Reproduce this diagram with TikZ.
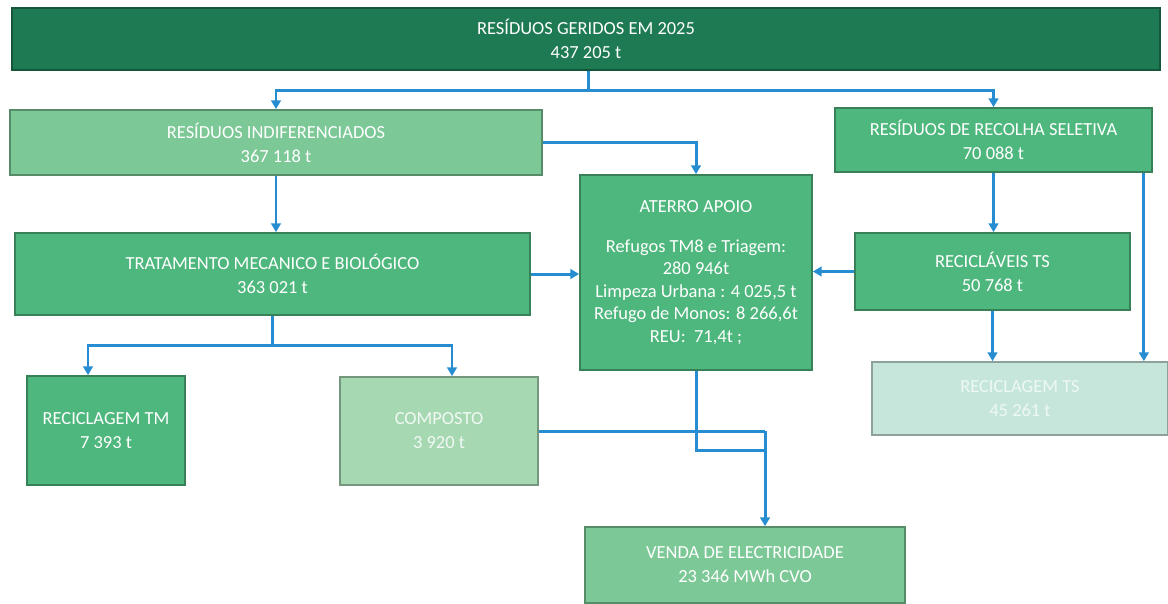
\documentclass[tikz,border=0pt]{standalone}
\usepackage{fontspec}
\setmainfont{Carlito}
\usepackage{tikz}
\usetikzlibrary{arrows.meta}

\definecolor{topgreen}{RGB}{30,122,82}
\definecolor{midgreen}{RGB}{78,183,125}
\definecolor{litegreen}{RGB}{124,200,150}
\definecolor{palegreen}{RGB}{166,216,178}
\definecolor{paleteal}{RGB}{198,230,220}
\definecolor{flowblue}{RGB}{38,142,208}

\tikzset{
  box/.style={rectangle, draw=#1!70!black, fill=#1, line width=1pt,
    text=white, align=center, inner sep=0pt,
    font=\fontsize{10.5}{13.6}\selectfont},
  flow/.style={draw=flowblue, line width=1.7pt,
    -{Triangle[length=5pt,width=5.5pt]}},
  link/.style={draw=flowblue, line width=1.7pt}
}

\begin{document}
\begin{tikzpicture}[x=0.02cm,y=-0.02cm]

\useasboundingbox (0,0) rectangle (1168,603);

%top box
\node[box=topgreen, minimum width=22.96cm, minimum height=1.24cm] (total) at (586,39)
  {RESÍDUOS GERIDOS EM 2025\\437 205 t};

%second row
\node[box=litegreen, minimum width=10.64cm, minimum height=1.3cm] (indif) at (276,142.5)
  {RESÍDUOS INDIFERENCIADOS\\367 118 t};
\node[box=midgreen, minimum width=6.34cm, minimum height=1.28cm] (seletiva) at (993.5,140)
  {RESÍDUOS DE RECOLHA SELETIVA\\70 088 t};

%landfill
\node[box=midgreen, minimum width=4.64cm, minimum height=3.9cm,
  font=\fontsize{10.5}{12.8}\selectfont] (aterro) at (696,272.5)
  {ATERRO APOIO\\[10pt]
   Refugos TM8 e Triagem:\\
   280 946t\\
   Limpeza Urbana : 4 025,5 t\\
   Refugo de Monos: 8 266,6t\\
   REU:\ \ 71,4t ;};

%third row
\node[box=midgreen, minimum width=10.3cm, minimum height=1.64cm] (tmb) at (272.5,274)
  {TRATAMENTO MECANICO E BIOLÓGICO\\363 021 t};
\node[box=midgreen, minimum width=5.5cm, minimum height=1.54cm] (reciclaveis) at (992.5,271.5)
  {RECICLÁVEIS TS\\50 768 t};

%fourth row
\node[box=midgreen, minimum width=3.16cm, minimum height=2.18cm] (recTM) at (106,430.5)
  {RECICLAGEM TM\\7 393 t};
\node[box=palegreen, minimum width=3.96cm, minimum height=2.16cm, text=white!85!palegreen] (composto) at (439,431)
  {COMPOSTO\\3 920 t};
\node[box=paleteal, minimum width=5.92cm, minimum height=1.46cm, text=white!70!paleteal] (recTS) at (1020,398.5)
  {RECICLAGEM TS\\45 261 t};

%electricity
\node[box=litegreen, minimum width=6.4cm, minimum height=1.52cm] (venda) at (745,565)
  {VENDA DE ELECTRICIDADE\\23 346 MWh CVO};

%junctions
\coordinate (split1) at (588,90);
\coordinate (split2) at (272.5,345);
\coordinate (merge1) at (765,450);
\coordinate (merge2) at (765,431);

%lines
\draw[link] (total.south -| split1) -- (split1);
\draw[flow] (split1) -| (indif.north);
\draw[flow] (split1) -| (seletiva.north);

\draw[flow] (indif.east) -| (aterro.north);
\draw[flow] (indif.south) -- (indif.south |- tmb.north);
\draw[flow] (tmb.east) -- (tmb.east -| aterro.west);

\draw[link] (tmb.south) -- (split2);
\draw[flow] (split2) -| ([xshift=-0.36cm]recTM.north);
\draw[flow] (split2) -| ([xshift=0.26cm]composto.north);

\draw[flow] (seletiva.south) -- (seletiva.south |- reciclaveis.north);
\draw[flow] ([xshift=-0.18cm]seletiva.south east) -- ([xshift=-0.18cm]seletiva.south east |- recTS.north);
\draw[flow] (reciclaveis.west) -- (reciclaveis.west -| aterro.east);
\draw[flow] (reciclaveis.south) -- (reciclaveis.south |- recTS.north);

\draw[link] (aterro.south) |- (merge1);
\draw[link] (composto.east) -- (merge2);
\draw[flow] (merge2) -- (merge2 |- venda.north);

\end{tikzpicture}
\end{document}
